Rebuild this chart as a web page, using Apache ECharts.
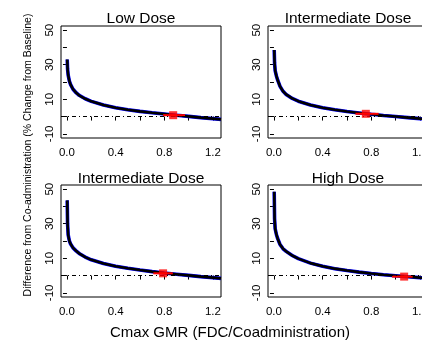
<!DOCTYPE html>
<html>
<head>
<meta charset="utf-8">
<script src="https://cdn.jsdelivr.net/npm/echarts@6/dist/echarts.min.js"></script>
<style>
  html, body { margin: 0; padding: 0; background: #fff; }
  #chart { width: 422px; height: 341px; }
</style>
</head>
<body>
<div id="chart"></div>
<script>
// panel titles
const panelTitles = ['Low Dose', 'Intermediate Dose', 'Intermediate Dose', 'High Dose'];

// Cmax GMR sample points (x) shared by all curves
const gmrX = [0.002, 0.005, 0.01, 0.02, 0.03, 0.05, 0.075, 0.1, 0.15, 0.2, 0.3, 0.4,
  0.5, 0.6, 0.7, 0.8, 0.9, 1.0, 1.1, 1.2, 1.266];

// difference from co-administration (%)
const lowDose = [33, 27.5, 24, 20.5, 18.5, 15.8, 13.8, 12.3, 10.3, 8.8, 6.7, 5.1,
  3.9, 3.0, 2.2, 1.5, 0.8, 0.1, -0.6, -1.2, -1.6];
const interDoseA = [38.5, 31, 26.5, 23.5, 21.2, 17.5, 14.6, 12.8, 10.5, 8.9, 6.7, 5.1,
  3.9, 2.9, 2.1, 1.3, 0.6, 0, -0.6, -1.2, -1.5];
const interDoseB = [43.5, 30, 23.5, 20, 18.3, 16, 14.3, 12.8, 10.7, 9.1, 7.0, 5.4,
  4.2, 3.2, 2.3, 1.5, 0.8, 0.1, -0.6, -1.2, -1.6];
const highDose = [48.5, 33, 27, 23.8, 21.5, 18, 15.5, 14, 11.6, 9.8, 7.2, 5.4,
  4.0, 2.9, 2.0, 1.2, 0.5, -0.1, -0.7, -1.2, -1.5];
const curves = [lowDose, interDoseA, interDoseB, highDose];

// observed GMR estimate with its interval
const estX = [0.873, 0.755, 0.79, 1.07];
const estY = [0.8, 1.6, 1.3, -0.6];
const estLo = [0.79, 0.67, 0.71, 0.97];
const estHi = [0.97, 0.86, 0.87, 1.14];

// ticks and labels
const xTicks = [0, 0.2, 0.4, 0.6, 0.8, 1.0, 1.2];
const xLabels = [0, 0.4, 0.8, 1.2];
const yTicks = [-10, 0, 10, 20, 30, 40, 50];
const yLabels = [-10, 10, 30, 50];

const font = 'Liberation Sans, Arial, sans-serif';
const boxes = [
  { left: 61, top: 26 },
  { left: 268, top: 26 },
  { left: 61, top: 185 },
  { left: 268, top: 185 }
];
const boxW = 160, boxH = 112;

const chart = echarts.init(document.getElementById('chart'));

const grid = [], xAxis = [], yAxis = [], series = [], graphic = [];

boxes.forEach(function (b, i) {
  grid.push({
    left: b.left, top: b.top, width: boxW, height: boxH,
    outerBoundsMode: 'none', containLabel: false,
    show: true, borderColor: '#000', borderWidth: 1, backgroundColor: 'transparent'
  });
  xAxis.push({
    type: 'value', gridIndex: i, min: -0.049, max: 1.266,
    axisLine: { show: false },
    splitLine: { show: false },
    axisTick: { show: true, length: 4, customValues: xTicks, lineStyle: { color: '#000' } },
    axisLabel: {
      customValues: xLabels, margin: 9, fontSize: 11.5, color: '#000', fontFamily: font,
      formatter: function (v) { return v.toFixed(1); }
    }
  });
  yAxis.push({
    type: 'value', gridIndex: i, min: -12.4, max: 52.4,
    axisLine: { show: false },
    splitLine: { show: false },
    axisTick: { show: true, length: 4, customValues: yTicks, lineStyle: { color: '#000' } },
    axisLabel: {
      customValues: yLabels, rotate: 90, margin: 5, fontSize: 11.5, color: '#000', fontFamily: font
    }
  });

  const pts = gmrX.map(function (x, k) { return [x, curves[i][k]]; });

  series.push({
    type: 'line', xAxisIndex: i, yAxisIndex: i, data: pts, symbol: 'none',
    lineStyle: { color: '#0000ff', width: 3.6 }, z: 2,
    markLine: {
      silent: true, symbol: 'none', label: { show: false },
      lineStyle: { color: '#000', width: 1, type: [4, 3, 1, 3] },
      data: [{ yAxis: 0 }]
    }
  });
  series.push({
    type: 'line', xAxisIndex: i, yAxisIndex: i, data: pts, symbol: 'none',
    lineStyle: { color: '#000', width: 2.6 }, z: 3
  });
  series.push({
    type: 'line', xAxisIndex: i, yAxisIndex: i, symbol: 'none',
    data: [[estLo[i], estY[i]], [estHi[i], estY[i]]],
    lineStyle: { color: '#ff0000', width: 2 }, z: 4
  });
  series.push({
    type: 'scatter', xAxisIndex: i, yAxisIndex: i, symbol: 'rect', symbolSize: 8,
    data: [[estX[i], estY[i]]],
    itemStyle: { color: '#ff0000' }, z: 5
  });

  graphic.push({
    type: 'text', x: b.left + boxW / 2, y: b.top - (i < 2 ? 7.5 : 6),
    style: {
      text: panelTitles[i], fontSize: 15.5, fontFamily: font, fill: '#000',
      align: 'center', verticalAlign: 'middle'
    }
  });
});

graphic.push({
  type: 'text', x: 28, y: 155, rotation: Math.PI / 2,
  style: {
    text: 'Difference from Co-administration (% Change from Baseline)',
    fontSize: 10.5, fontFamily: font, fill: '#000', align: 'center', verticalAlign: 'middle'
  }
});
graphic.push({
  type: 'text', x: 230, y: 333,
  style: {
    text: 'Cmax GMR (FDC/Coadministration)',
    fontSize: 15, fontFamily: font, fill: '#000', align: 'center', verticalAlign: 'middle'
  }
});

chart.setOption({
  animation: false,
  grid: grid,
  xAxis: xAxis,
  yAxis: yAxis,
  series: series,
  graphic: graphic
});
</script>
</body>
</html>
